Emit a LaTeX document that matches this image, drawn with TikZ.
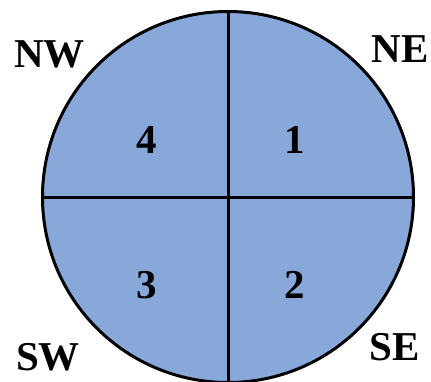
\documentclass[tikz,border=0pt]{standalone}
\usepackage{fontspec}
\setmainfont{Liberation Serif}
\definecolor{quadfill}{RGB}{135,168,217}
\begin{document}
\begin{tikzpicture}[x=1pt,y=-1pt,
  disc/.style={circle,draw=black,fill=quadfill,line width=3pt,minimum size=371pt,inner sep=0pt,outer sep=0pt},
  divider/.style={draw=black,line width=3pt},
  lab/.style={inner sep=0pt,font=\fontsize{41}{41}\selectfont\bfseries}]
\useasboundingbox (0,0) rectangle (431,381);
\node[disc] (c) at (228,197) {};
\draw[divider] (c.north) -- (c.south);
\draw[divider] (c.west) -- (c.east);
\node[lab] (q1) at (295,140) {1};
\node[lab] (q2) at (295,285) {2};
\node[lab] (q3) at (147,285) {3};
\node[lab] (q4) at (147,140) {4};
\node[lab] (ne) at (400,49) {NE};
\node[lab] (nw) at (49.5,54) {NW};
\node[lab] (sw) at (48,357) {SW};
\node[lab] (se) at (395,347) {SE};
\end{tikzpicture}
\end{document}
